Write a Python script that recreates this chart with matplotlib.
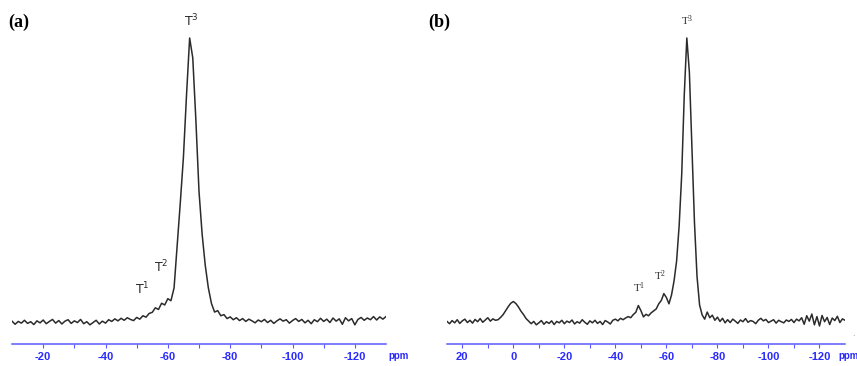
import numpy as np
import matplotlib
matplotlib.use('Agg')
import matplotlib.pyplot as plt

plt.rcParams['axes.unicode_minus'] = False
plt.rcParams['mathtext.default'] = 'regular'

# ---------------- data ----------------
# panel (a): chemical shift from -10 to -130 ppm, 1 ppm step
shift_a_start = -10
intensity_a = [
    0.3, -0.8, 0.2, -0.4, 0.6, -0.5, 0.1, -0.9, 0.4, -0.3,      # -10..-19
    0.7, -0.6, 0.2, 0.9, -0.4, 0.5, -0.7, 0.3, 0.8, -0.5,       # -20..-29
    0.4, -0.2, 0.9, -0.6, 0.1, -1.0, -0.2, 0.6, -0.7, 0.3,      # -30..-39
    -0.4, 0.8, 0.2, 1.1, 0.4, 1.3, 0.6, 1.5, 0.9, 0.5,          # -40..-49
    1.6, 1.0, 2.2, 1.7, 3.0, 3.4, 5.0, 4.4, 6.6, 6.0,           # -50..-59
    8.2, 7.5, 12.0, 27.0, 42.0, 58.0, 80.0, 100.0, 93.0, 71.0,  # -60..-69
    46.0, 31.0, 20.0, 12.0, 6.5, 3.5, 4.0, 2.2, 2.6, 1.2,       # -70..-79
    1.8, 0.8, 1.5, 0.5, 1.2, 0.2, 1.0, 0.4, -0.3, 0.7,          # -80..-89
    0.1, 0.9, -0.2, 0.6, -0.5, 0.4, 1.1, 0.3, 0.8, -0.4,        # -90..-99
    0.5, 1.2, 0.2, 0.9, -0.3, 0.6, -0.6, 0.8, 0.1, 1.3,         # -100..-109
    0.2, 1.0, -0.2, 1.4, 0.3, 1.1, -0.8, 1.5, 0.4, 1.2,         # -110..-119
    -1.0, 0.9, 1.6, 0.6, 1.4, 0.8, 1.9, 0.7, 1.8, 1.0,          # -120..-129
    1.9,                                                        # -130
]

# panel (b): chemical shift from 26 to -130 ppm, 1 ppm step
shift_b_start = 26
intensity_b = [
    0.2, -0.6, 0.5, -0.3, 0.8, -0.5, 0.4, 1.0, -0.2, 0.6,       # 26..17
    -0.4, 0.9, 0.1, 1.2, -0.1, 0.7, 1.5, 0.3, 1.1, 0.6,         # 16..7
    0.8, 1.6, 2.6, 4.0, 5.4, 6.6, 7.2, 6.5, 5.3, 3.8,           # 6..-3
    2.6, 1.2, 0.3, -0.6, 0.2, -1.0, -0.3, 0.5, -0.8, 0.1,       # -4..-13
    -0.5, 0.4, -0.9, 0.2, -0.3, 0.6, -0.6, 0.3, -0.2, 0.7,      # -14..-23
    -0.7, 0.1, -0.4, 0.8, -0.1, -0.8, 0.4, -0.3, 0.6, -0.5,     # -24..-33
    0.2, -0.9, 0.5, 0.0, -0.7, 0.6, 1.0, 0.4, 1.3, 0.8,         # -34..-43
    1.4, 1.9, 1.5, 2.6, 3.4, 5.8, 4.0, 1.8, 2.7, 2.2,           # -44..-53
    3.2, 3.9, 4.6, 6.4, 7.6, 10.0, 8.6, 6.4, 9.5, 14.5,         # -54..-63
    21.5, 34.0, 52.0, 80.0, 100.0, 88.0, 62.0, 35.0, 16.0, 6.0, # -64..-73
    2.5, 1.0, 3.5, 1.5, 2.4, 0.6, 1.7, 0.2, 1.3, -0.3,          # -74..-83
    0.8, -0.2, 1.0, 0.3, -0.5, 0.7, 0.1, 1.2, -0.1, 0.5,        # -84..-93
    0.2, -0.6, 0.6, 1.3, 0.4, 0.9, -0.2, 0.3, 0.8, -0.4,        # -94..-103
    0.6, 0.1, -0.3, 0.7, 0.2, 0.9, -0.2, 1.0, 0.4, 1.5,         # -104..-113
    -0.8, 2.2, 0.3, 2.8, -1.0, 1.9, -1.4, 2.3, 0.1, 1.6,        # -114..-123
    -0.9, 1.4, 0.5, 2.0, -0.2, 1.1, 0.6,                        # -124..-130
]

ticks_a = [-20, -40, -60, -80, -100, -120]
tick_labels_a = ['-20', '-40', '-60', '-80', '-100', '-120']
minor_a = [-30, -50, -70, -90, -110]
ticks_b = [20, 0, -20, -40, -60, -80, -100, -120]
tick_labels_b = ['20', '0', '-20', '-40', '-60', '-80', '-100', '-120']
minor_b = [10, -10, -30, -50, -70, -90, -110]

# peak labels: (text, shift, intensity)
labels_a = [('T$^{3}$', -67.4, 103.0), ('T$^{2}$', -57.8, 16.5), ('T$^{1}$', -51.7, 8.8)]
labels_b = [('T$^{3}$', -68.0, 103.5), ('T$^{2}$', -57.4, 13.7), ('T$^{1}$', -49.2, 9.5)]

shift_a = shift_a_start - np.arange(len(intensity_a))
shift_b = shift_b_start - np.arange(len(intensity_b))

# ---------------- figure ----------------
W, H = 857, 366
fig = plt.figure(figsize=(W / 100, H / 100), dpi=100)
BLUE = '#2a2aff'
LINE_BLUE = '#5a5aff'
INK = '#2b2b2b'


def px_axes(l, r, top, bottom):
    return fig.add_axes([l / W, (H - bottom) / H, (r - l) / W, (bottom - top) / H])


def style(ax, xlim, ticks, labels, minor):
    ax.set_xlim(*xlim)
    ax.set_ylim(-7.75, 106.34)
    for s in ('top', 'left', 'right'):
        ax.spines[s].set_visible(False)
    ax.spines['bottom'].set_color(LINE_BLUE)
    ax.spines['bottom'].set_linewidth(1.1)
    ax.set_yticks([])
    ax.set_xticks(ticks)
    ax.set_xticklabels(labels, fontfamily='Liberation Sans', fontweight='bold')
    ax.set_xticks(minor, minor=True)
    ax.tick_params(axis='x', which='both', direction='out', length=3, width=0.8,
                   color=LINE_BLUE, labelcolor=BLUE, labelsize=8, pad=3)
    ax.patch.set_alpha(0)


ax_a = px_axes(12, 386, 20, 344)
ax_a.plot(shift_a, intensity_a, color=INK, lw=1.1)
style(ax_a, (-10, -130), ticks_a, tick_labels_a, minor_a)
for txt, x, y in labels_a:
    ax_a.text(x, y, txt, ha='center', va='bottom', fontsize=9, color=INK,
              fontfamily='DejaVu Sans')

ax_b = px_axes(447, 845, 20, 344)
ax_b.plot(shift_b, intensity_b, color=INK, lw=1.1)
style(ax_b, (26, -130), ticks_b, tick_labels_b, minor_b)
for txt, x, y in labels_b:
    ax_b.text(x, y, txt, ha='center', va='bottom', fontsize=8, color=INK,
              fontfamily='Liberation Serif')

# unit labels
fig.text(399 / W, 1 - 356 / H, 'ppm', ha='center', va='center', fontsize=7,
         fontweight='bold', color=BLUE, fontfamily='Liberation Sans')
fig.text(838 / W, 1 - 356 / H, 'ppm', ha='left', va='center', fontsize=7,
         fontweight='bold', color=BLUE, fontfamily='Liberation Sans')
fig.text(853 / W, 1 - 334 / H, '.', ha='center', va='center', fontsize=6, color='#888888')

# panel letters
fig.text(8 / W, 1 - 22 / H, '(a)', ha='left', va='center', fontsize=13,
         fontweight='bold', fontfamily='Liberation Serif')
fig.text(428 / W, 1 - 22 / H, '(b)', ha='left', va='center', fontsize=13,
         fontweight='bold', fontfamily='Liberation Serif')

fig.savefig('out.png', dpi=100)
